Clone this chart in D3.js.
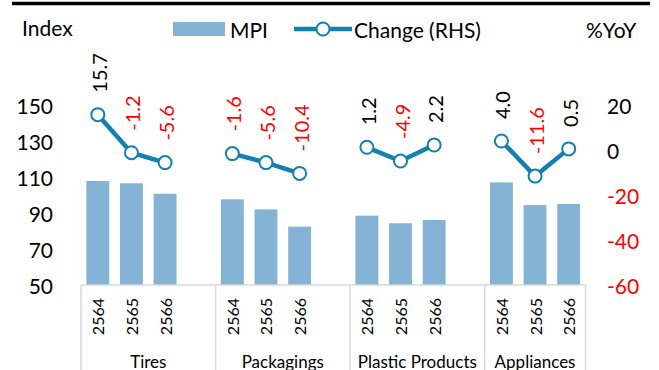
<!DOCTYPE html>
<html><head><meta charset="utf-8">
<script src="https://cdn.jsdelivr.net/npm/d3@7"></script>
<style>body{margin:0;background:#fff}svg{display:block;font-family:Lato,"Open Sans",sans-serif}</style>
</head><body>
<svg id="c" width="659" height="370"></svg>
<script>
const groups = ["Tires","Packagings","Plastic Products","Appliances"];
const years = ["2564","2565","2566"];
const mpi = [[107.8,106.5,100.7],[97.6,92.0,82.4],[88.5,84.3,86.1],[107.0,94.4,95.0]];
const change = [[15.7,-1.2,-5.6],[-1.6,-5.6,-10.4],[1.2,-4.9,2.2],[4.0,-11.6,0.5]];
const leftTicks = [50,70,90,110,130,150];
const rightTicks = [-60,-40,-20,0,20];

const svg = d3.select("#c");
const blue = "#1380b0", barC = "#85b3d6", red = "#ff0000", gridC = "#d9d9d9";

// slots: 3 bars + 1 blank per group, except after last group
const slots = [];
groups.forEach((g,gi)=>{
  years.forEach((y,yi)=>slots.push(gi+"|"+yi));
  if (gi < groups.length-1) slots.push(gi+"|gap");
});
const x0 = 81, x1 = 585.5;
const x = d3.scaleBand().domain(slots).range([x0,x1]).paddingInner(0.32).paddingOuter(0.16);
const yL = d3.scaleLinear().domain([50,150]).range([285,105]);
const yR = d3.scaleLinear().domain([-60,20]).range([285,105]);
const step = x.step();

// top rule
svg.append("line").attr("x1",12).attr("x2",650).attr("y1",3.5).attr("y2",3.5).attr("stroke","#000").attr("stroke-width",3.5);

// bars
const barData = [];
groups.forEach((g,gi)=>years.forEach((yv,yi)=>barData.push({k:gi+"|"+yi,g:gi,v:mpi[gi][yi],c:change[gi][yi],yr:yv})));
svg.append("g").selectAll("rect").data(barData).join("rect")
  .attr("x",d=>x(d.k)).attr("width",x.bandwidth())
  .attr("y",d=>yL(d.v)).attr("height",d=>yL(50)-yL(d.v)).attr("fill",barC);

// category axis lines
svg.append("line").attr("x1",x0).attr("x2",x1).attr("y1",285).attr("y2",285).attr("stroke",gridC).attr("stroke-width",1.5);
const sepX = groups.map((g,gi)=>x0 + gi*4*step).concat([x1]);
svg.append("g").selectAll("line").data(sepX).join("line")
  .attr("x1",d=>d).attr("x2",d=>d).attr("y1",285).attr("y2",370).attr("stroke",gridC).attr("stroke-width",1.5);

// year labels
svg.append("g").selectAll("text").data(barData).join("text")
  .attr("transform",d=>`translate(${x(d.k)+x.bandwidth()/2},298) rotate(-90)`)
  .attr("text-anchor","end").attr("dominant-baseline","central")
  .attr("font-size",16).attr("fill","#000").text(d=>d.yr);

// group labels
svg.append("g").selectAll("text").data(groups).join("text")
  .attr("x",(d,i)=>(sepX[i]+sepX[i+1])/2).attr("y",361)
  .attr("text-anchor","middle").attr("dominant-baseline","central")
  .attr("font-size",17).attr("fill","#000").text(d=>d);

// left axis
svg.append("g").selectAll("text").data(leftTicks).join("text")
  .attr("x",53).attr("y",d=>yL(d)).attr("text-anchor","end").attr("dominant-baseline","central")
  .attr("font-size",21).attr("fill","#000").text(d=>d);
// right axis
svg.append("g").selectAll("text").data(rightTicks).join("text")
  .attr("x",607).attr("y",d=>yR(d)).attr("text-anchor","start").attr("dominant-baseline","central")
  .attr("font-size",21).attr("fill",d=>d<0?red:"#000").text(d=>d);

svg.append("text").attr("x",22).attr("y",27).attr("dominant-baseline","central").attr("font-size",21).text("Index");
svg.append("text").attr("x",586).attr("y",29).attr("dominant-baseline","central").attr("font-size",21).text("%YoY");

// lines
const line = d3.line().x(d=>x(d.k)+x.bandwidth()/2).y(d=>yR(d.c));
groups.forEach((g,gi)=>{
  const pts = barData.filter(d=>d.g===gi);
  svg.append("path").datum(pts).attr("d",line).attr("fill","none").attr("stroke",blue).attr("stroke-width",4.5);
  svg.append("g").selectAll("circle").data(pts).join("circle")
    .attr("cx",d=>x(d.k)+x.bandwidth()/2).attr("cy",d=>yR(d.c)).attr("r",6.5)
    .attr("fill","#fff").attr("stroke",blue).attr("stroke-width",2);
});
// data labels
svg.append("g").selectAll("text").data(barData).join("text")
  .attr("transform",d=>`translate(${x(d.k)+x.bandwidth()/2+1},${yR(d.c)-22}) rotate(-90)`)
  .attr("text-anchor","start").attr("dominant-baseline","central")
  .attr("font-size",20).attr("fill",d=>d.c<0?red:"#000").text(d=>d.c.toFixed(1));

// legend
svg.append("rect").attr("x",173).attr("y",22).attr("width",52).attr("height",14).attr("fill",barC);
svg.append("text").attr("x",230).attr("y",29).attr("dominant-baseline","central").attr("font-size",21).text("MPI");
svg.append("line").attr("x1",294).attr("x2",352).attr("y1",29).attr("y2",29).attr("stroke",blue).attr("stroke-width",4.5);
svg.append("circle").attr("cx",323).attr("cy",29).attr("r",6.5).attr("fill","#fff").attr("stroke",blue).attr("stroke-width",2);
svg.append("text").attr("x",354).attr("y",29).attr("dominant-baseline","central").attr("font-size",21).text("Change (RHS)");
</script>
</body></html>
